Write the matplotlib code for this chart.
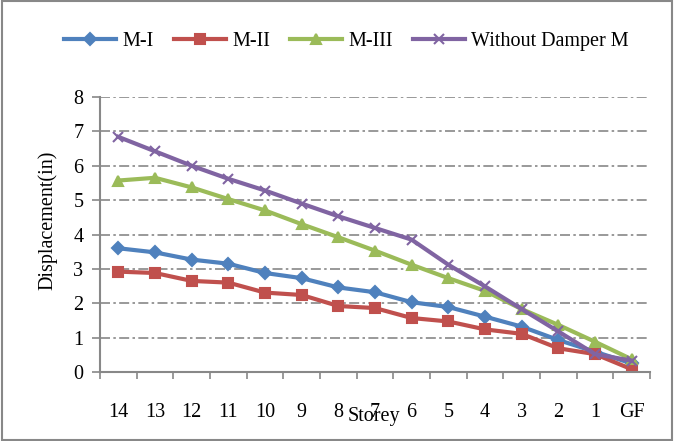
import matplotlib
matplotlib.use("Agg")
import matplotlib.pyplot as plt
from matplotlib.patches import Rectangle

plt.rcParams['font.family'] = ['Liberation Serif', 'DejaVu Serif']

storeys = ["14", "13", "12", "11", "10", "9", "8", "7", "6", "5", "4", "3", "2", "1", "GF"]
m1 = [3.60, 3.48, 3.27, 3.15, 2.88, 2.73, 2.46, 2.32, 2.03, 1.89, 1.61, 1.32, 0.93, 0.59, 0.25]
m2 = [2.92, 2.88, 2.65, 2.60, 2.31, 2.24, 1.92, 1.86, 1.57, 1.47, 1.24, 1.11, 0.69, 0.52, 0.08]
m3 = [5.57, 5.65, 5.37, 5.03, 4.70, 4.30, 3.92, 3.53, 3.12, 2.73, 2.36, 1.83, 1.37, 0.88, 0.37]
wd = [6.84, 6.42, 6.00, 5.62, 5.28, 4.90, 4.53, 4.19, 3.85, 3.12, 2.49, 1.83, 1.18, 0.52, 0.33]

series = [
    ("M-I", m1, "#4F81BD", "D", 6.5),
    ("M-II", m2, "#C0504D", "s", 6.5),
    ("M-III", m3, "#9BBB59", "^", 7.5),
    ("Without Damper M", wd, "#8064A2", "x", 7),
]

FS = 14.5

fig = plt.figure(figsize=(6.74, 4.41), dpi=100)
fig.patches.append(Rectangle((0.003, 0.003), 0.994, 0.994, transform=fig.transFigure,
                             fill=False, edgecolor="#888888", linewidth=1.5))
ax = fig.add_axes([100/674, 69/441, 550/674, 275/441])

x = list(range(len(storeys)))
for name, vals, col, mk, ms in series:
    ax.plot(x, vals, color=col, linewidth=3.0, marker=mk, markersize=ms,
            markeredgecolor=col, markerfacecolor=col, markeredgewidth=1.5, label=name)

ax.set_xlim(-0.5, 14.5)
ax.set_ylim(0, 8)
ax.set_yticks(range(0, 9))
ax.set_xticks(x)
ax.set_xticklabels(storeys, fontsize=FS)
ax.set_xticks([i - 0.5 for i in range(16)], minor=True)
ax.tick_params(axis='x', which='major', length=0, pad=22)
ax.tick_params(axis='x', which='minor', length=5, color="#888888", width=1.2)
ax.tick_params(axis='y', length=6, color="#888888", width=1.2, labelsize=FS, pad=6)

for s in ['top', 'right']:
    ax.spines[s].set_visible(False)
for s in ['left', 'bottom']:
    ax.spines[s].set_color("#888888")
    ax.spines[s].set_linewidth(1.5)

ax.yaxis.grid(True, color="#888888", linestyle=(0, (6, 2, 1.5, 2)), linewidth=1.2)
ax.set_axisbelow(True)

ax.set_ylabel("Displacement(in)", fontsize=FS)
ax.yaxis.set_label_coords(-0.078, 0.55)
ax.set_xlabel("Storey", fontsize=FS)
ax.xaxis.set_label_coords(0.498, -0.128)

fig.legend(loc='center', bbox_to_anchor=(0.514, 0.905), ncol=4, frameon=False,
           handlelength=2.6, columnspacing=1.0, handletextpad=0.3,
           prop={'size': FS})

fig.savefig("out.png", dpi=100)
